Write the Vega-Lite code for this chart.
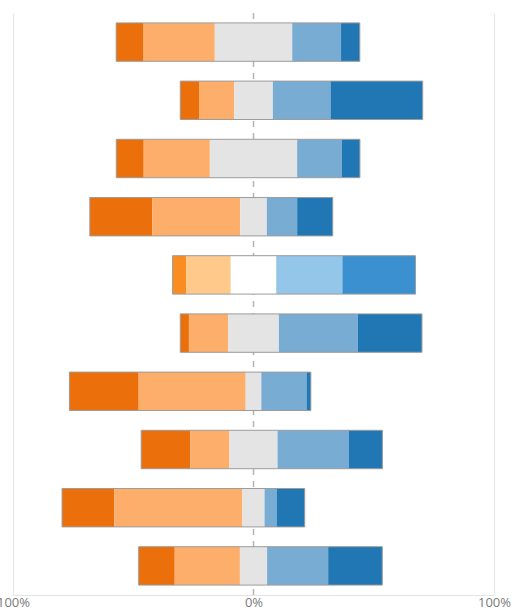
{
  "$schema": "https://vega.github.io/schema/vega-lite/v6.json",
  "width": 481,
  "height": 582,
  "autosize": {"type": "none"},
  "padding": {"left": 13, "top": 13, "right": 18, "bottom": 13},
  "background": "#ffffff",
  "config": {
    "view": {"stroke": null},
    "font": "Open Sans"
  },
  "data": {
    "values": [
      {"q": "Q1", "r": "sd", "pct": 11.4}, {"q": "Q1", "r": "d", "pct": 29.6}, {"q": "Q1", "r": "n", "pct": 32.2}, {"q": "Q1", "r": "a", "pct": 20.3}, {"q": "Q1", "r": "sa", "pct": 7.8},
      {"q": "Q2", "r": "sd", "pct": 7.8}, {"q": "Q2", "r": "d", "pct": 14.6}, {"q": "Q2", "r": "n", "pct": 16.1}, {"q": "Q2", "r": "a", "pct": 24.0}, {"q": "Q2", "r": "sa", "pct": 38.3},
      {"q": "Q3", "r": "sd", "pct": 11.4}, {"q": "Q3", "r": "d", "pct": 27.5}, {"q": "Q3", "r": "n", "pct": 36.3}, {"q": "Q3", "r": "a", "pct": 18.5}, {"q": "Q3", "r": "sa", "pct": 7.6},
      {"q": "Q4", "r": "sd", "pct": 26.0}, {"q": "Q4", "r": "d", "pct": 36.5}, {"q": "Q4", "r": "n", "pct": 11.1}, {"q": "Q4", "r": "a", "pct": 12.6}, {"q": "Q4", "r": "sa", "pct": 14.8},
      {"q": "Q5", "r": "sd", "pct": 5.7, "selected": true}, {"q": "Q5", "r": "d", "pct": 18.5, "selected": true}, {"q": "Q5", "r": "n", "pct": 18.9, "selected": true}, {"q": "Q5", "r": "a", "pct": 27.5, "selected": true}, {"q": "Q5", "r": "sa", "pct": 30.4, "selected": true},
      {"q": "Q6", "r": "sd", "pct": 3.6}, {"q": "Q6", "r": "d", "pct": 16.3}, {"q": "Q6", "r": "n", "pct": 21.1}, {"q": "Q6", "r": "a", "pct": 32.8}, {"q": "Q6", "r": "sa", "pct": 26.7},
      {"q": "Q7", "r": "sd", "pct": 28.8}, {"q": "Q7", "r": "d", "pct": 44.5}, {"q": "Q7", "r": "n", "pct": 6.5}, {"q": "Q7", "r": "a", "pct": 18.8}, {"q": "Q7", "r": "sa", "pct": 1.8},
      {"q": "Q8", "r": "sd", "pct": 20.4}, {"q": "Q8", "r": "d", "pct": 16.3}, {"q": "Q8", "r": "n", "pct": 20.0}, {"q": "Q8", "r": "a", "pct": 29.7}, {"q": "Q8", "r": "sa", "pct": 13.9},
      {"q": "Q9", "r": "sd", "pct": 21.7}, {"q": "Q9", "r": "d", "pct": 53.3}, {"q": "Q9", "r": "n", "pct": 9.2}, {"q": "Q9", "r": "a", "pct": 5.0}, {"q": "Q9", "r": "sa", "pct": 11.7},
      {"q": "Q10", "r": "sd", "pct": 15.0}, {"q": "Q10", "r": "d", "pct": 27.1}, {"q": "Q10", "r": "n", "pct": 11.3}, {"q": "Q10", "r": "a", "pct": 25.4}, {"q": "Q10", "r": "sa", "pct": 22.5}
    ]
  },
  "transform": [
    {"calculate": "indexof(['sd','d','n','a','sa'], datum.r)", "as": "ord"},
    {"calculate": "(datum.selected ? 'h-' : '') + datum.r", "as": "key"},
    {"calculate": "datum.ord < 2 ? datum.pct : (datum.ord == 2 ? datum.pct / 2 : 0)", "as": "neg"},
    {"stack": "pct", "groupby": ["q"], "sort": [{"field": "ord"}], "as": ["v1", "v2"]},
    {"joinaggregate": [{"op": "sum", "field": "neg", "as": "offset"}], "groupby": ["q"]},
    {"calculate": "datum.v1 - datum.offset", "as": "x1"},
    {"calculate": "datum.v2 - datum.offset", "as": "x2"}
  ],
  "layer": [
    {
      "data": {"values": [{"zero": 0}]},
      "transform": [],
      "mark": {"type": "rule", "color": "#b4b4b4", "strokeWidth": 1.5, "strokeDash": [6, 6]},
      "encoding": {
        "x": {"field": "zero", "type": "quantitative"}
      }
    },
    {
      "mark": {"type": "bar"},
      "encoding": {
        "y": {
          "field": "q",
          "type": "nominal",
          "scale": {
            "domain": ["Q1", "Q2", "Q3", "Q4", "Q5", "Q6", "Q7", "Q8", "Q9", "Q10"],
            "paddingInner": 0.34,
            "paddingOuter": 0.17
          },
          "axis": null
        },
        "x": {
          "field": "x1",
          "type": "quantitative",
          "scale": {"domain": [-100, 100], "nice": false},
          "axis": {
            "title": null,
            "values": [-100, 0, 100],
            "labelExpr": "abs(datum.value) + '%'",
            "labelFlush": false,
            "labelFont": "Open Sans",
            "labelFontSize": 13,
            "labelColor": "#7a7a7a",
            "labelPadding": 1,
            "ticks": false,
            "domainColor": "#e4e4e4",
            "grid": true,
            "gridColor": {"condition": {"test": "datum.value === 0", "value": "transparent"}, "value": "#e8e8e8"},
            "gridWidth": 1.2
          }
        },
        "x2": {"field": "x2"},
        "color": {
          "field": "key",
          "type": "nominal",
          "scale": {
            "domain": ["sd", "d", "n", "a", "sa", "h-sd", "h-d", "h-n", "h-a", "h-sa"],
            "range": ["#eb700b", "#fdae6b", "#e4e4e4", "#79acd3", "#2077b4", "#fb8c22", "#fec98b", "#ffffff", "#94c6ea", "#3b91cf"]
          },
          "legend": null
        }
      }
    },
    {
      "transform": [
        {"aggregate": [{"op": "min", "field": "x1", "as": "lo"}, {"op": "max", "field": "x2", "as": "hi"}], "groupby": ["q"]}
      ],
      "mark": {"type": "bar", "fillOpacity": 0, "stroke": "#9c9c9c", "strokeWidth": 1},
      "encoding": {
        "y": {"field": "q", "type": "nominal"},
        "x": {"field": "lo", "type": "quantitative"},
        "x2": {"field": "hi"}
      }
    }
  ]
}
